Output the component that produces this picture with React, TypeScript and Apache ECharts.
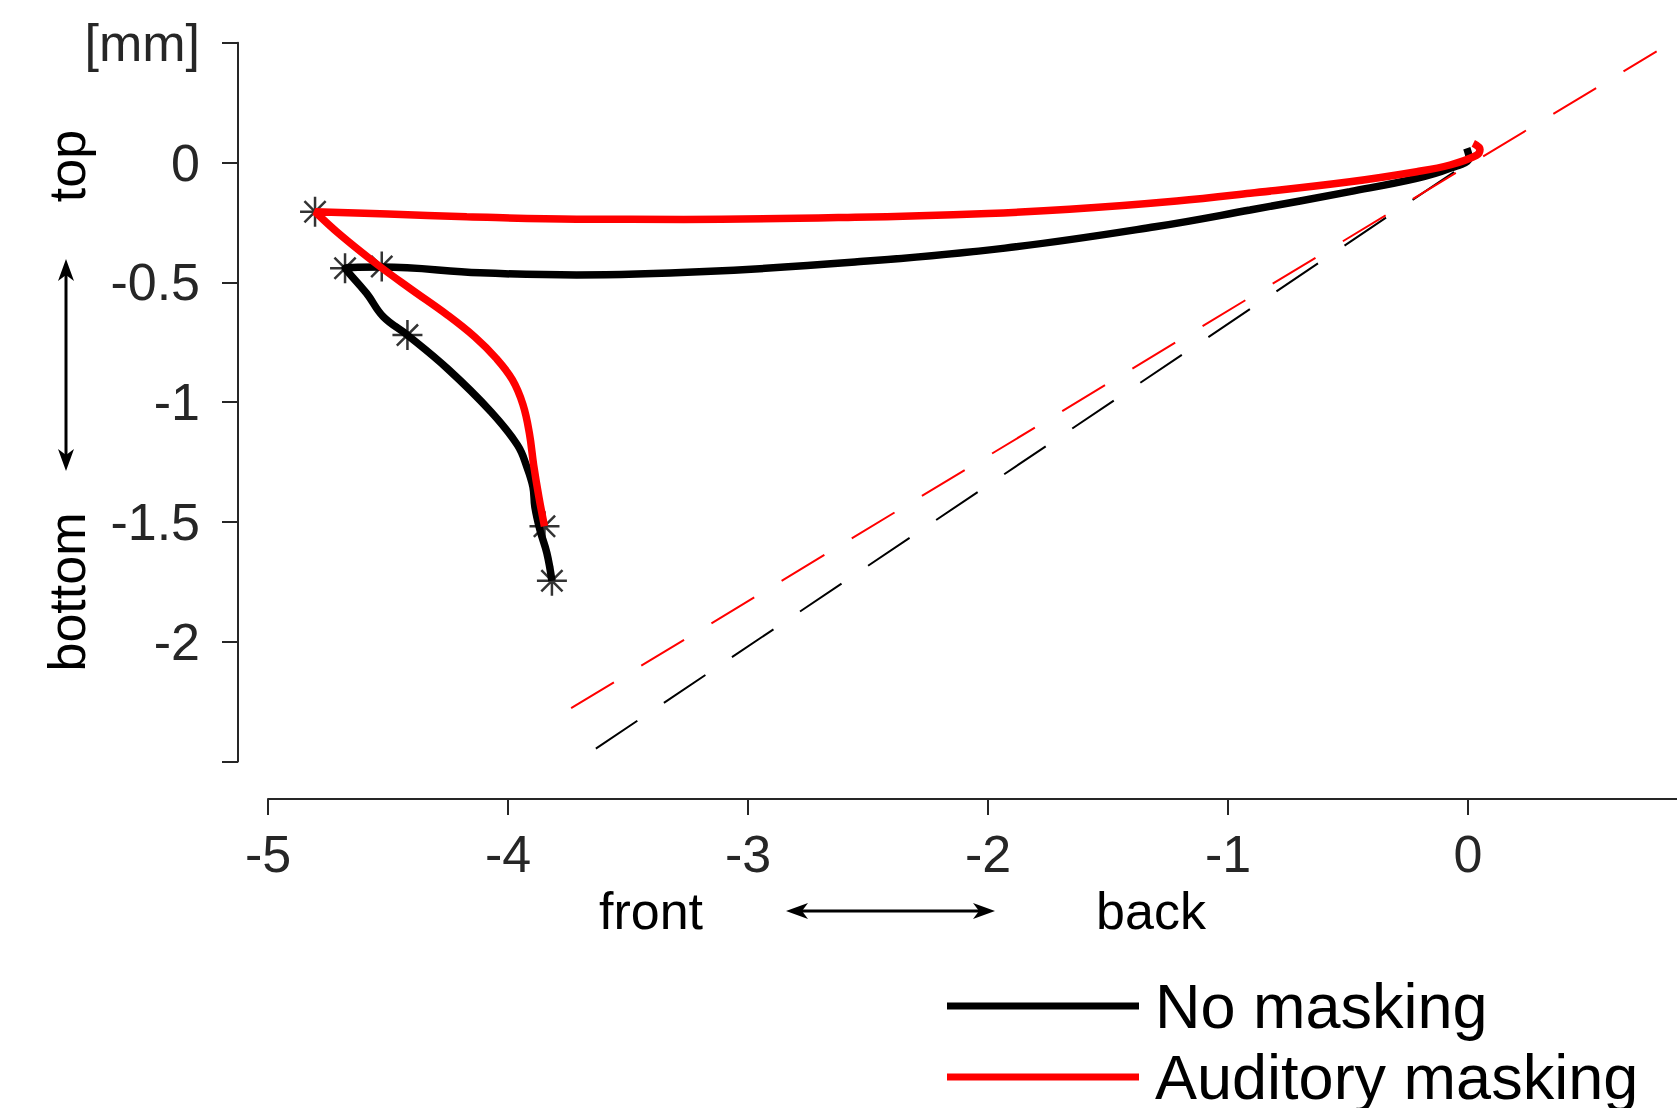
import React, { useEffect, useRef } from "react";
import * as echarts from "echarts";

// ---- data (mm) ----
const noMaskX = [-0.005, 0.005, -0.075, -0.214, -0.492, -0.908, -1.304, -1.929, -2.554, -3.179, -3.714, -4.116, -4.526, -4.679, -4.589, -4.52, -4.419, -4.25, -4.071, -3.96, -3.921, -3.896, -3.888, -3.867, -3.838, -3.817];
const noMaskY = [0.06, 0.02, -0.024, -0.066, -0.121, -0.198, -0.268, -0.357, -0.415, -0.455, -0.469, -0.46, -0.436, -0.441, -0.546, -0.643, -0.72, -0.862, -1.04, -1.18, -1.271, -1.354, -1.437, -1.533, -1.63, -1.745];

const audMaskX = [0.022, 0.05, 0.035, -0.075, -0.214, -0.492, -0.908, -1.214, -1.661, -2.0, -2.554, -3.268, -3.714, -4.172, -4.5, -4.804, -4.696, -4.54, -4.406, -4.25, -4.138, -4.049, -3.982, -3.938, -3.911, -3.893, -3.871, -3.848];
const audMaskY = [0.08, 0.055, 0.03, -0.01, -0.038, -0.08, -0.128, -0.16, -0.195, -0.212, -0.228, -0.237, -0.236, -0.226, -0.215, -0.205, -0.304, -0.429, -0.527, -0.638, -0.728, -0.817, -0.906, -1.009, -1.129, -1.263, -1.397, -1.518];

const markerX = [-4.804, -4.679, -4.526, -4.419, -3.848, -3.817];
const markerY = [-0.205, -0.441, -0.434, -0.72, -1.518, -1.745];

const noMaskRefX = [-3.634, 0.0];
const noMaskRefY = [-2.446, 0.0];
const audMaskRefX = [-3.737, 0.786];
const audMaskRefY = [-2.277, 0.464];

const xTickValues = [-5, -4, -3, -2, -1, 0, 1];
const xTickLabels = ["-5", "-4", "-3", "-2", "-1", "0", ""];
const yTickValues = [-2.5, -2, -1.5, -1, -0.5, 0, 0.5];
const yTickLabels = ["", "-2", "-1.5", "-1", "-0.5", "0", "[mm]"];

const seriesNames = ["No masking", "Auditory masking"];

const FONT = "Liberation Sans, Arial, Helvetica, sans-serif";
const AXIS_COLOR = "#262626";

const zip = (xs: number[], ys: number[]) => xs.map((x, i) => [x, ys[i]]);

const labelFor = (vals: number[], labels: string[]) => (v: number) => {
  const i = vals.findIndex((t) => Math.abs(t - v) < 1e-6);
  return i >= 0 ? labels[i] : "";
};

const ASTERISK =
  "path://M0,-10L0,10M-10,0L10,0M-7.07,-7.07L7.07,7.07M-7.07,7.07L7.07,-7.07";

function arrowHead(tx: number, ty: number, dx: number, dy: number) {
  const L = 22, W = 8, N = 6;
  const px = -dy, py = dx;
  return [
    [tx, ty],
    [tx - dx * L + px * W, ty - dy * L + py * W],
    [tx - dx * (L - N), ty - dy * (L - N)],
    [tx - dx * L - px * W, ty - dy * L - py * W],
  ];
}

function doubleArrow(x1: number, y1: number, x2: number, y2: number) {
  const len = Math.hypot(x2 - x1, y2 - y1);
  const dx = (x2 - x1) / len, dy = (y2 - y1) / len;
  return [
    {
      type: "line",
      shape: { x1: x1 + dx * 10, y1: y1 + dy * 10, x2: x2 - dx * 10, y2: y2 - dy * 10 },
      style: { stroke: "#000", lineWidth: 3 },
    },
    { type: "polygon", shape: { points: arrowHead(x2, y2, dx, dy) }, style: { fill: "#000" } },
    { type: "polygon", shape: { points: arrowHead(x1, y1, -dx, -dy) }, style: { fill: "#000" } },
  ];
}

const legendBase = {
  orient: "vertical",
  left: 942,
  itemWidth: 192,
  itemHeight: 7,
  icon: "rect",
  textStyle: { fontSize: 63, lineHeight: 66, fontFamily: FONT, color: "#000", padding: [0, 0, 0, 11] },
};

export default function App() {
  const ref = useRef<HTMLDivElement>(null);
  useEffect(() => {
    if (!ref.current) return;
    const chart = echarts.init(ref.current, null, { renderer: "svg" });
    const textStyle = { fontFamily: FONT, fontSize: 52, fill: "#000" };
    chart.setOption({
      animation: false,
      backgroundColor: "#fff",
      grid: {
        left: 268,
        top: 42.8,
        width: 1440,
        height: 718.8,
        containLabel: false,
        outerBoundsMode: "none",
      },
      xAxis: {
        type: "value",
        min: xTickValues[0],
        max: xTickValues[xTickValues.length - 1],
        interval: 1,
        offset: 37.4,
        splitLine: { show: false },
        axisLine: { onZero: false, lineStyle: { color: AXIS_COLOR, width: 2 } },
        axisTick: { inside: false, length: 16, lineStyle: { color: AXIS_COLOR, width: 2 } },
        axisLabel: {
          margin: 29,
          fontSize: 52,
          fontFamily: FONT,
          color: AXIS_COLOR,
          formatter: labelFor(xTickValues, xTickLabels),
        },
      },
      yAxis: {
        type: "value",
        min: yTickValues[0],
        max: yTickValues[yTickValues.length - 1],
        interval: 0.5,
        offset: 30,
        splitLine: { show: false },
        axisLine: { onZero: false, lineStyle: { color: AXIS_COLOR, width: 2 } },
        axisTick: { inside: false, length: 16, lineStyle: { color: AXIS_COLOR, width: 2 } },
        axisLabel: {
          margin: 38,
          fontSize: 52,
          fontFamily: FONT,
          color: AXIS_COLOR,
          formatter: labelFor(yTickValues, yTickLabels),
        },
      },
      legend: [
        { ...legendBase, data: [seriesNames[0]], top: 968 },
        { ...legendBase, data: [seriesNames[1]], top: 1039 },
      ],
      series: [
        {
          name: "noMaskRef",
          type: "line",
          data: zip(noMaskRefX, noMaskRefY),
          symbol: "none",
          silent: true,
          lineStyle: { color: "#000", width: 2, type: [50, 32] },
        },
        {
          name: "audMaskRef",
          type: "line",
          data: zip(audMaskRefX, audMaskRefY),
          symbol: "none",
          silent: true,
          lineStyle: { color: "#ff0000", width: 2, type: [50, 32] },
        },
        {
          name: seriesNames[0],
          type: "line",
          data: zip(noMaskX, noMaskY),
          symbol: "none",
          smooth: 0.4,
          itemStyle: { color: "#000" },
          lineStyle: { color: "#000", width: 7.5 },
        },
        {
          name: seriesNames[1],
          type: "line",
          data: zip(audMaskX, audMaskY),
          symbol: "none",
          smooth: 0.4,
          itemStyle: { color: "#ff0000" },
          lineStyle: { color: "#ff0000", width: 7.5 },
        },
        {
          name: "markers",
          type: "scatter",
          data: zip(markerX, markerY),
          symbol: ASTERISK,
          symbolSize: 30,
          itemStyle: { color: "none", borderColor: "#000", borderWidth: 2.5 },
        },
      ],
      graphic: [
        {
          type: "text",
          x: 651,
          y: 911,
          style: { ...textStyle, text: "front", textAlign: "center", textVerticalAlign: "middle" },
        },
        {
          type: "text",
          x: 1151,
          y: 911,
          style: { ...textStyle, text: "back", textAlign: "center", textVerticalAlign: "middle" },
        },
        {
          type: "text",
          x: 67,
          y: 166,
          rotation: Math.PI / 2,
          style: { ...textStyle, text: "top", textAlign: "center", textVerticalAlign: "middle" },
        },
        {
          type: "text",
          x: 67,
          y: 592,
          rotation: Math.PI / 2,
          style: { ...textStyle, text: "bottom", textAlign: "center", textVerticalAlign: "middle" },
        },
        ...doubleArrow(786, 911, 995, 911),
        ...doubleArrow(66, 259, 66, 471),
      ],
    });
    return () => chart.dispose();
  }, []);
  return (
    <div
      ref={ref}
      style={{ position: "absolute", left: 0, top: 0, width: 1677, height: 1108 }}
    />
  );
}
